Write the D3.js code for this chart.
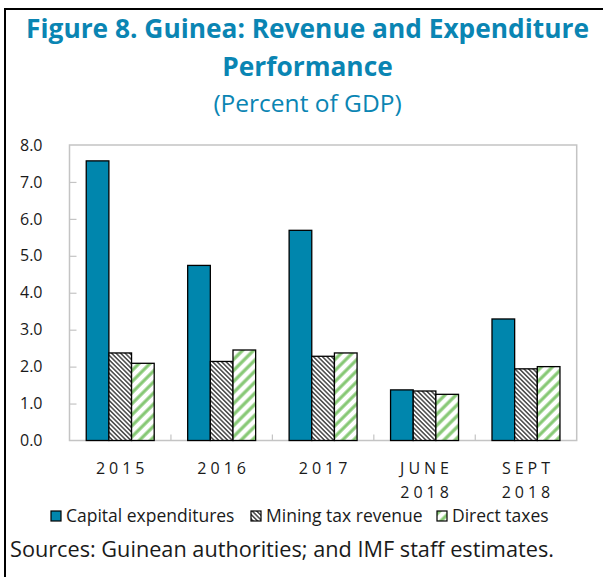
<!DOCTYPE html>
<html>
<head>
<meta charset="utf-8">
<script src="https://cdn.jsdelivr.net/npm/d3@7"></script>
<style>
  body { margin: 0; background: #fff; }
  svg { display: block; font-family: "Open Sans", "Noto Sans", sans-serif; }
</style>
</head>
<body>
<script>
"use strict";
// values (percent of GDP)
const categories = [["2015"], ["2016"], ["2017"], ["JUNE", "2018"], ["SEPT", "2018"]];
const seriesNames = ["Capital expenditures", "Mining tax revenue", "Direct taxes"];
const capitalExp = [7.57, 4.74, 5.69, 1.37, 3.29];
const miningTax = [2.37, 2.14, 2.28, 1.34, 1.94];
const directTaxes = [2.09, 2.45, 2.37, 1.25, 2.00];
const yTicks = [0, 1, 2, 3, 4, 5, 6, 7, 8];

const measurements = { width: 603, height: 577, left: 69.5, right: 576.7, top: 145, bottom: 440.5 };
const teal = "#0086ad";

(function() {
    const svg = d3.select("body").append("svg")
        .attr("width", measurements.width)
        .attr("height", measurements.height);

    const defs = svg.append("defs");
    // Mining: thin dark "\" hatch
    const p1 = defs.append("pattern").attr("id", "hatchMining")
        .attr("patternUnits", "userSpaceOnUse").attr("width", 3.2).attr("height", 3.2)
        .attr("patternTransform", "rotate(-45)");
    p1.append("rect").attr("width", 3.2).attr("height", 3.2).attr("fill", "#fff");
    p1.append("line").attr("x1", 0.8).attr("x2", 0.8).attr("y1", 0).attr("y2", 3.2)
        .attr("stroke", "#3a3a3a").attr("stroke-width", 1.4);
    // Direct taxes: green "/" stripes
    const p2 = defs.append("pattern").attr("id", "hatchDirect")
        .attr("patternUnits", "userSpaceOnUse").attr("width", 7.8).attr("height", 7.8)
        .attr("patternTransform", "rotate(45)");
    p2.append("rect").attr("width", 7.8).attr("height", 7.8).attr("fill", "#fff");
    p2.append("line").attr("x1", 2).attr("x2", 2).attr("y1", 0).attr("y2", 7.8)
        .attr("stroke", "#86c874").attr("stroke-width", 3.2);

    const fills = [teal, "url(#hatchMining)", "url(#hatchDirect)"];
    const seriesValues = [capitalExp, miningTax, directTaxes];

    // image frame (left + top only, as cropped)
    svg.append("line").attr("x1", 5).attr("x2", 5).attr("y1", 8).attr("y2", measurements.height)
        .attr("stroke", "#000").attr("stroke-width", 2);
    svg.append("line").attr("x1", 4).attr("x2", measurements.width).attr("y1", 9).attr("y2", 9)
        .attr("stroke", "#000").attr("stroke-width", 2);

    // titles
    const cx = 307.5;
    svg.append("text").attr("x", cx).attr("y", 38).attr("text-anchor", "middle")
        .style("font-size", "26.3px").style("font-weight", "bold").attr("fill", "#0a85b3")
        .text("Figure 8. Guinea: Revenue and Expenditure");
    svg.append("text").attr("x", cx).attr("y", 76).attr("text-anchor", "middle")
        .style("font-size", "26.3px").style("font-weight", "bold").attr("fill", "#0a85b3")
        .text("Performance");
    svg.append("text").attr("x", cx).attr("y", 112).attr("text-anchor", "middle")
        .style("font-size", "24.5px").attr("fill", "#0a85b3")
        .text("(Percent of GDP)");

    const keys = categories.map((c) => c.join(" "));
    const scaleX = d3.scaleBand().domain(keys)
        .range([measurements.left, measurements.right]).padding(0);
    const scaleY = d3.scaleLinear().domain([0, 8])
        .range([measurements.bottom, measurements.top]);
    const step = scaleX.bandwidth();
    const scaleSub = d3.scaleBand().domain(d3.range(3))
        .range([step * 0.165, step * 0.835]).padding(0);

    // plot frame
    svg.append("rect")
        .attr("x", measurements.left).attr("y", measurements.top)
        .attr("width", measurements.right - measurements.left)
        .attr("height", measurements.bottom - measurements.top)
        .attr("fill", "none").attr("stroke", "#c4c4c4").attr("stroke-width", 1.5);

    // y axis: inward ticks, labels outside
    const yAxis = d3.axisLeft(scaleY).tickValues(yTicks).tickSize(-7).tickPadding(27)
        .tickFormat(d3.format(".1f"));
    const gy = svg.append("g").attr("transform", `translate(${measurements.left},0)`).call(yAxis);
    gy.select(".domain").remove();
    gy.selectAll(".tick line").attr("stroke", "#c4c4c4").attr("stroke-width", 1.2);
    gy.selectAll(".tick text").style("font-size", "16px").attr("fill", "#1a1a1a")
        .style("font-family", "'Open Sans', sans-serif");
    gy.selectAll(".tick").filter((d) => d === 0 || d === 8).select("line").remove();

    // x category separator ticks
    const seps = keys.slice(1).map((k) => scaleX(k));
    svg.append("g").selectAll("line").data(seps).enter().append("line")
        .attr("x1", (d) => d).attr("x2", (d) => d)
        .attr("y1", measurements.bottom).attr("y2", measurements.bottom - 6)
        .attr("stroke", "#c4c4c4").attr("stroke-width", 1.2);

    // bars
    const groups = svg.append("g").selectAll("g").data(keys).enter().append("g")
        .attr("transform", (d) => `translate(${scaleX(d)},0)`);
    groups.selectAll("rect")
        .data((d, i) => seriesValues.map((vals, s) => ({ s: s, v: vals[i] })))
        .enter().append("rect")
        .attr("x", (d) => scaleSub(d.s))
        .attr("width", scaleSub.bandwidth())
        .attr("y", (d) => scaleY(d.v))
        .attr("height", (d) => scaleY(0) - scaleY(d.v))
        .attr("fill", (d) => fills[d.s])
        .attr("stroke", "#000").attr("stroke-width", 1.3);

    // x labels (spaced letters, two lines for 2018)
    const xl = svg.append("g").selectAll("text").data(categories).enter().append("text")
        .attr("text-anchor", "middle")
        .style("font-size", "16px").style("letter-spacing", "4px").attr("fill", "#1a1a1a");
    xl.each(function(lines, i) {
        const t = d3.select(this);
        lines.forEach((ln, j) => {
            t.append("tspan").attr("x", scaleX(keys[i]) + step / 2 + 2)
                .attr("y", 474 + j * 23.5).text(ln);
        });
    });

    // legend
    const legendX = [51, 251, 437];
    const leg = svg.append("g").selectAll("g").data(seriesNames).enter().append("g")
        .attr("transform", (d, i) => `translate(${legendX[i]},511)`);
    leg.append("rect").attr("width", 10).attr("height", 10)
        .attr("fill", (d, i) => fills[i]).attr("stroke", "#000").attr("stroke-width", 1.2);
    leg.append("text").attr("x", 15).attr("y", 10.5)
        .style("font-size", "17.5px").attr("fill", "#1a1a1a").text((d) => d);

    // source note
    svg.append("text").attr("x", 10).attr("y", 557)
        .style("font-size", "21.7px").attr("fill", "#1a1a1a")
        .text("Sources: Guinean authorities; and IMF staff estimates.");
})();
</script>
</body>
</html>
